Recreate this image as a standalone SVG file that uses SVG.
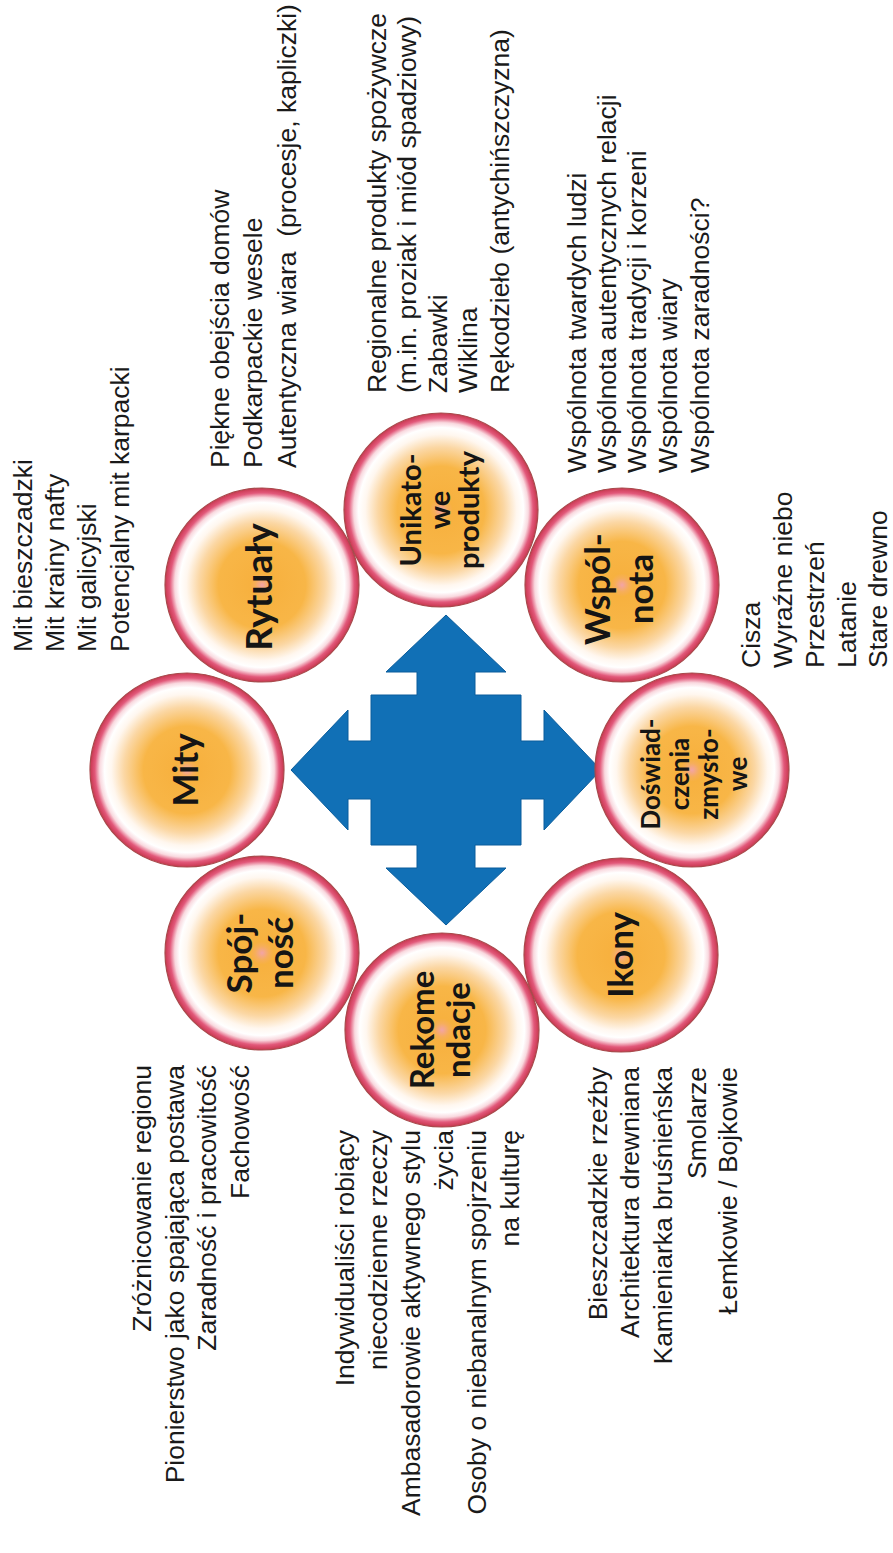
<svg xmlns="http://www.w3.org/2000/svg" width="893" height="1553" viewBox="0 0 893 1553">
  <defs>
    <radialGradient id="ball" cx="50%" cy="50%" r="50%">
      <stop offset="0" stop-color="#f3a4a6"/>
      <stop offset="0.07" stop-color="#f6ae5a"/>
      <stop offset="0.12" stop-color="#f7b13f"/>
      <stop offset="0.45" stop-color="#f8b647"/>
      <stop offset="0.65" stop-color="#fbd7a4"/>
      <stop offset="0.78" stop-color="#fff7ef"/>
      <stop offset="0.85" stop-color="#ffffff"/>
      <stop offset="0.9" stop-color="#f9d9df"/>
      <stop offset="0.95" stop-color="#e2587a"/>
      <stop offset="1" stop-color="#c8374f"/>
    </radialGradient>
    <style>
      .ball { fill: url(#ball); stroke: #a84a4c; stroke-width: 1.2; }
      .lbl { font-family: Lato, "Open Sans", sans-serif; font-weight: 700; fill: #151515; text-anchor: middle; }
      .lst { font-family: "Liberation Sans", Arial, sans-serif; font-size: 26.5px; fill: #1a1a1a; }
      .end { text-anchor: end; }
      .arrow { fill: #1170b6; stroke: #0b5d9c; stroke-width: 1; }
    </style>
  </defs>
  <rect width="893" height="1553" fill="#ffffff"/>

  <g id="connectors">
    <polygon class="arrow" transform="translate(446,770)" points="0,-155 60,-98 29,-98 29,-75 75,-75 75,-29 98,-29 98,-60 155,0 98,60 98,29 75,29 75,75 29,75 29,98 60,98 0,155 -60,98 -29,98 -29,75 -75,75 -75,29 -98,29 -98,60 -155,0 -98,-60 -98,-29 -75,-29 -75,-75 -29,-75 -29,-98 -60,-98"/>
  </g>

  <g id="node-mity">
    <circle class="ball" cx="187" cy="770" r="97"/>
    <text class="lbl" font-size="35" transform="translate(187,770) rotate(-90)" x="0" y="11">Mity</text>
    <g class="lst" transform="rotate(-90)">
      <text x="-652" y="32">Mit bieszczadzki</text>
      <text x="-652" y="64">Mit krainy nafty</text>
      <text x="-652" y="96">Mit galicyjski</text>
      <text x="-652" y="129">Potencjalny mit karpacki</text>
    </g>
  </g>

  <g id="node-rytualy">
    <circle class="ball" cx="262" cy="585" r="97"/>
    <text class="lbl" font-size="37" transform="translate(262,587) rotate(-90)" x="0" y="10">Rytuały</text>
    <g class="lst" transform="rotate(-90)">
      <text x="-468" y="229">Piękne obejścia domów</text>
      <text x="-468" y="262">Podkarpackie wesele</text>
      <text x="-468" y="296">Autentyczna wiara&#160; (procesje, kapliczki)</text>
    </g>
  </g>

  <g id="node-unikatowe">
    <circle class="ball" cx="441" cy="510" r="97"/>
    <g class="lbl" font-size="29" transform="translate(441,510) rotate(-90)">
      <text x="0" y="-20">Unikato-</text>
      <text x="0" y="9">we</text>
      <text x="0" y="38">produkty</text>
    </g>
    <g class="lst" transform="rotate(-90)">
      <text x="-393" y="386">Regionalne produkty spożywcze</text>
      <text x="-393" y="416">(m.in. proziak i miód spadziowy)</text>
      <text x="-393" y="447">Zabawki</text>
      <text x="-393" y="477">Wiklina</text>
      <text x="-393" y="509">Rękodzieło (antychińszczyzna)</text>
    </g>
  </g>

  <g id="node-wspolnota">
    <circle class="ball" cx="622" cy="585" r="97"/>
    <g class="lbl" font-size="35" transform="translate(622,589) rotate(-90)">
      <text x="0" y="-12">Wspól-</text>
      <text x="0" y="31">nota</text>
    </g>
    <g class="lst" transform="rotate(-90)">
      <text x="-473" y="586">Wspólnota twardych ludzi</text>
      <text x="-473" y="616">Wspólnota autentycznych relacji</text>
      <text x="-473" y="646">Wspólnota tradycji i korzeni</text>
      <text x="-473" y="677">Wspólnota wiary</text>
      <text x="-473" y="709">Wspólnota zaradności?</text>
    </g>
  </g>

  <g id="node-doswiadczenia">
    <circle class="ball" cx="692" cy="770" r="97"/>
    <g class="lbl" font-size="26" transform="translate(692,774) rotate(-90)">
      <text x="0" y="-32">Doświad-</text>
      <text x="0" y="-3">czenia</text>
      <text x="0" y="26">zmysło-</text>
      <text x="0" y="55">we</text>
    </g>
    <g class="lst" transform="rotate(-90)">
      <text x="-668" y="760">Cisza</text>
      <text x="-668" y="792">Wyraźne niebo</text>
      <text x="-668" y="824">Przestrzeń</text>
      <text x="-668" y="856">Latanie</text>
      <text x="-668" y="887">Stare drewno</text>
    </g>
  </g>

  <g id="node-ikony">
    <circle class="ball" cx="621" cy="955" r="97"/>
    <text class="lbl" font-size="35" transform="translate(621,955) rotate(-90)" x="0" y="12">Ikony</text>
    <g class="lst end" transform="rotate(-90)">
      <text x="-1067" y="607">Bieszczadzkie rzeźby</text>
      <text x="-1067" y="639">Architektura drewniana</text>
      <text x="-1067" y="672">Kamieniarka bruśnieńska</text>
      <text x="-1067" y="706">Smolarze</text>
      <text x="-1067" y="737">Łemkowie / Bojkowie</text>
    </g>
  </g>

  <g id="node-rekomendacje">
    <circle class="ball" cx="442" cy="1030" r="97"/>
    <g class="lbl" font-size="33" transform="translate(442,1030) rotate(-90)">
      <text x="0" y="-8">Rekome</text>
      <text x="0" y="28">ndacje</text>
    </g>
    <g class="lst end" transform="rotate(-90)">
      <text x="-1130" y="354">Indywidualiści robiący</text>
      <text x="-1130" y="387">niecodzienne rzeczy</text>
      <text x="-1130" y="420">Ambasadorowie aktywnego stylu</text>
      <text x="-1130" y="453">życia</text>
      <text x="-1130" y="486">Osoby o niebanalnym spojrzeniu</text>
      <text x="-1130" y="519">na kulturę</text>
    </g>
  </g>

  <g id="node-spojnosc">
    <circle class="ball" cx="262" cy="953" r="97"/>
    <g class="lbl" font-size="35" transform="translate(262,953) rotate(-90)">
      <text x="0" y="-10">Spój-</text>
      <text x="0" y="31">ność</text>
    </g>
    <g class="lst end" transform="rotate(-90)">
      <text x="-1065" y="151">Zróżnicowanie regionu</text>
      <text x="-1065" y="184">Pionierstwo jako spajająca postawa</text>
      <text x="-1065" y="216">Zaradność i pracowitość</text>
      <text x="-1065" y="249">Fachowość</text>
    </g>
  </g>
</svg>
